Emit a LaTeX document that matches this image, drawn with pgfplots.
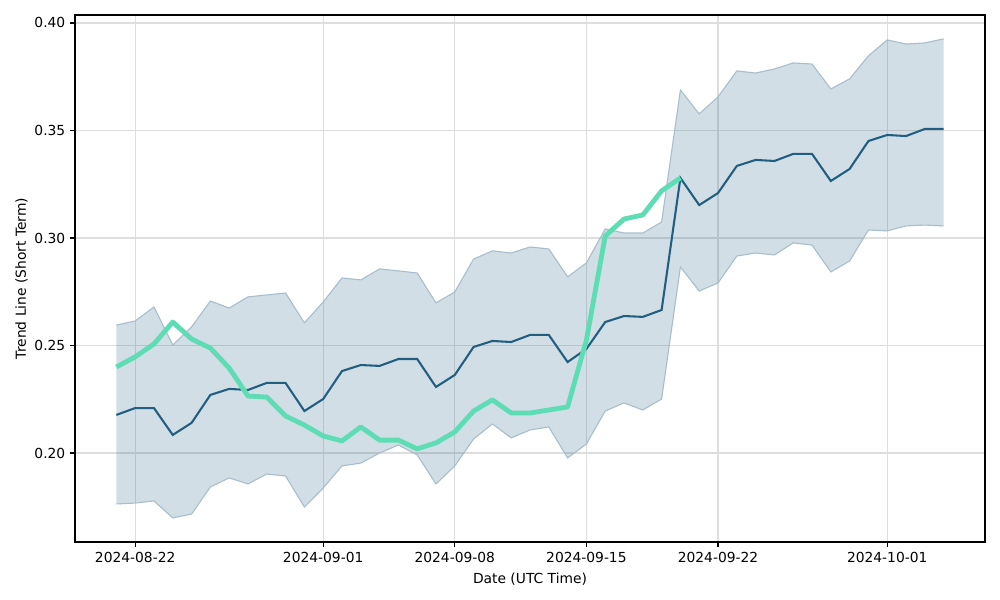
\documentclass[border=0pt]{standalone}
\usepackage{fontspec}
\setmainfont{DejaVu Sans}
\usepackage{pgfplots}
\pgfplotsset{compat=1.18}
\usepgfplotslibrary{fillbetween}

\definecolor{bandfill}{RGB}{25,90,130}
\definecolor{bandedge}{RGB}{168,190,204}
\definecolor{meanline}{RGB}{33,94,127}
\definecolor{trendgreen}{RGB}{94,221,180}
\definecolor{gridgray}{RGB}{222,222,222}

% day 0 = 2024-08-21
\pgfplotstableread{
day lo mid hi
0 0.1763 0.2177 0.2595
1 0.1767 0.2209 0.2614
2 0.1777 0.2209 0.2679
3 0.1698 0.2084 0.2502
4 0.1716 0.2140 0.2586
5 0.1842 0.2270 0.2707
6 0.1884 0.2298 0.2674
7 0.1856 0.2293 0.2726
8 0.1902 0.2326 0.2735
9 0.1893 0.2326 0.2744
10 0.1749 0.2195 0.2605
11 0.1837 0.2251 0.2702
12 0.1940 0.2381 0.2814
13 0.1953 0.2409 0.2805
14 0.2000 0.2405 0.2856
15 0.2037 0.2437 0.2847
16 0.1991 0.2437 0.2837
17 0.1856 0.2307 0.2698
18 0.1940 0.2363 0.2749
19 0.2065 0.2493 0.2902
20 0.2135 0.2521 0.2940
21 0.2070 0.2516 0.2930
22 0.2107 0.2549 0.2958
23 0.2121 0.2549 0.2949
24 0.1977 0.2423 0.2819
25 0.2042 0.2484 0.2884
26 0.2195 0.2609 0.3042
27 0.2233 0.2637 0.3023
28 0.2200 0.2633 0.3023
29 0.2251 0.2665 0.3074
30 0.2865 0.3279 0.3688
31 0.2753 0.3153 0.3577
32 0.2791 0.3209 0.3656
33 0.2916 0.3335 0.3777
34 0.2930 0.3363 0.3767
35 0.2921 0.3358 0.3786
36 0.2977 0.3391 0.3814
37 0.2967 0.3391 0.3809
38 0.2842 0.3265 0.3693
39 0.2893 0.3321 0.3740
40 0.3037 0.3451 0.3847
41 0.3033 0.3479 0.3921
42 0.3056 0.3474 0.3902
43 0.3060 0.3507 0.3907
44 0.3056 0.3507 0.3926
}\bandtable

\pgfplotstableread{
day trend
0 0.2400
1 0.2447
2 0.2507
3 0.2609
4 0.2530
5 0.2488
6 0.2395
7 0.2265
8 0.2260
9 0.2172
10 0.2130
11 0.2079
12 0.2056
13 0.2121
14 0.2060
15 0.2060
16 0.2019
17 0.2047
18 0.2098
19 0.2195
20 0.2247
21 0.2186
22 0.2186
23 0.2200
24 0.2214
25 0.2525
26 0.3009
27 0.3088
28 0.3107
29 0.3219
30 0.3279
}\trendtable

\begin{document}
\begin{tikzpicture}
\begin{axis}[
    at={(0,0)}, anchor=south west,
    scale only axis,
    width=9.1in, height=5.27in,
    xmin=-2.2, xmax=46.2,
    ymin=0.1586, ymax=0.4037,
    xtick={1,11,18,25,32,41},
    xticklabels={2024-08-22,2024-09-01,2024-09-08,2024-09-15,2024-09-22,2024-10-01},
    ytick={0.20,0.25,0.30,0.35,0.40},
    yticklabel style={/pgf/number format/fixed, /pgf/number format/fixed zerofill, /pgf/number format/precision=2},
    /pgf/number format/assume math mode=true,
    tick label style={font=\fontsize{10}{12}\selectfont},
    label style={font=\fontsize{10}{12}\selectfont},
    xlabel={Date (UTC Time)},
    ylabel={Trend Line (Short Term)},
    xlabel style={yshift=-1pt},
    ylabel style={yshift=-2pt},
    tick align=outside,
    major tick length=3.5pt,
    tick style={black, line width=0.8pt},
    xtick pos=bottom, ytick pos=left,
    grid=major,
    grid style={gridgray, line width=0.8pt},
    axis line style={line width=0.8pt},
]
\addplot[name path=upper, draw=bandedge, line width=0.8pt] table[x=day, y=hi] {\bandtable};
\addplot[name path=lower, draw=bandedge, line width=0.8pt] table[x=day, y=lo] {\bandtable};
\addplot[bandfill, fill opacity=0.2] fill between[of=upper and lower];
\addplot[meanline, line width=1.5pt] table[x=day, y=mid] {\bandtable};
\addplot[trendgreen, line width=3.5pt, line join=round] table[x=day, y=trend] {\trendtable};
\end{axis}
\path (-0.75in,-0.58in) rectangle (9.25in,5.42in);
\end{tikzpicture}
\end{document}
